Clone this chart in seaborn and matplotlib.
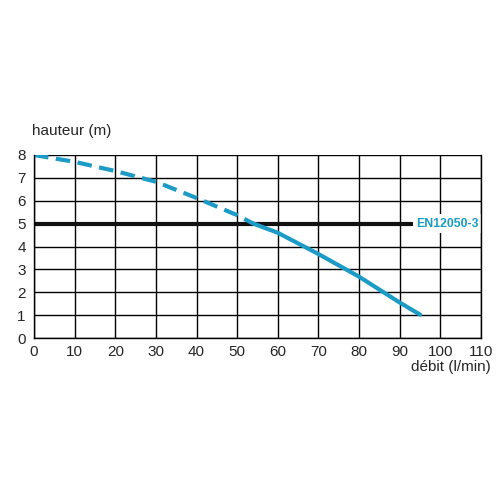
import matplotlib
matplotlib.use("Agg")
import matplotlib.pyplot as plt
import seaborn as sns
import pandas as pd

# Pump curve
debit_dashed = [0, 10, 20, 30, 40, 50, 54]
hauteur_dashed = [8.0, 7.7, 7.3, 6.83, 6.12, 5.37, 5.0]
debit_solid = [54, 60, 70, 80, 90, 95]
hauteur_solid = [5.0, 4.6, 3.67, 2.68, 1.55, 1.02]
norme_x = [0, 93]
norme_y = [5, 5]
x_ticks = [0, 10, 20, 30, 40, 50, 60, 70, 80, 90, 100, 110]
y_ticks = [0, 1, 2, 3, 4, 5, 6, 7, 8]

sns.set_style("white")
plt.rcParams["font.family"] = ["Liberation Sans Narrow", "Liberation Sans", "DejaVu Sans"]

blue = "#1b9bc6"

fig = plt.figure(figsize=(5.04, 5.04), dpi=100)
ax = fig.add_axes([34 / 504, 166 / 504, 447 / 504, 183 / 504])

df_d = pd.DataFrame({"debit": debit_dashed, "hauteur": hauteur_dashed})
df_s = pd.DataFrame({"debit": debit_solid, "hauteur": hauteur_solid})

sns.lineplot(data=df_d, x="debit", y="hauteur", ax=ax, color=blue, linewidth=3,
             linestyle=(0, (3.5, 1.8)), zorder=4)
sns.lineplot(data=df_s, x="debit", y="hauteur", ax=ax, color=blue, linewidth=3, zorder=4)
ax.plot(norme_x, norme_y, color="#111111", linewidth=3, zorder=3)

ax.set_xlim(0, 110)
ax.set_ylim(0, 8)
ax.set_xticks(x_ticks)
ax.set_yticks(y_ticks)
ax.grid(True, color="black", linewidth=1)
for s in ax.spines.values():
    s.set_color("black")
    s.set_linewidth(1)
    s.set_zorder(6)
ax.spines["top"].set_visible(False)
ax.tick_params(axis="both", labelsize=11, length=3, width=1, color="black", pad=3)
ax.tick_params(axis="x", length=0, pad=5)
ax.set_xlabel("")
ax.set_ylabel("")

ax.text(94.0, 5, "EN12050-3", color=blue, fontsize=8.8, fontweight="bold",
        va="center", ha="left", zorder=5,
        bbox=dict(facecolor="white", edgecolor="none", pad=2.5))
fig.text(32 / 504, 1 - 131 / 504, "hauteur (m)", fontsize=11, ha="left", va="center")
fig.text(491 / 504, 1 - 367 / 504, "débit (l/min)", fontsize=11, ha="right", va="center")

fig.savefig("out.png", dpi=100)
